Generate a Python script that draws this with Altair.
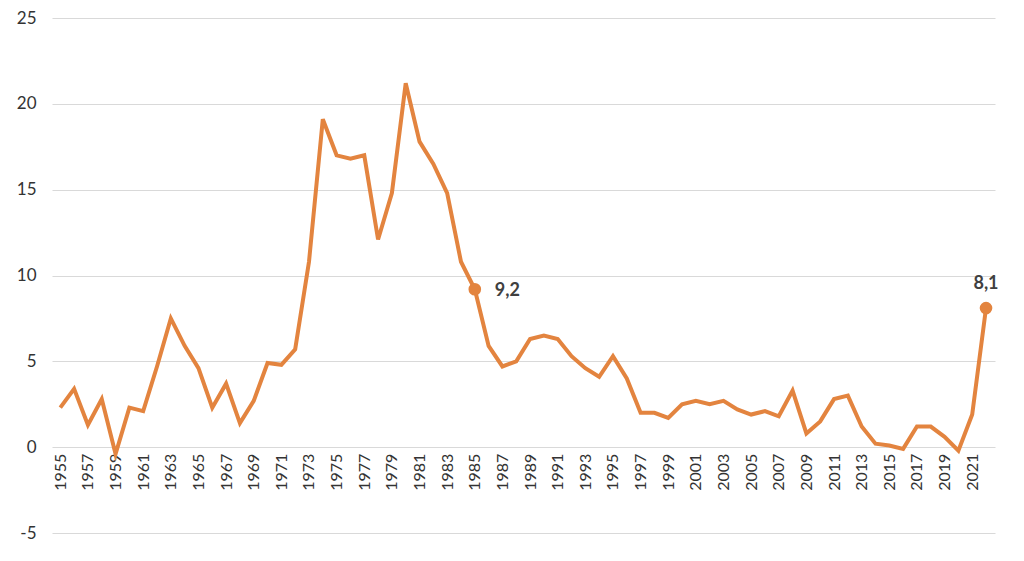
import altair as alt
import pandas as pd

years = list(range(1955, 2023))
values = [
    2.3, 3.4, 1.3, 2.8, -0.4, 2.3, 2.1, 4.7, 7.5, 5.9,
    4.6, 2.3, 3.7, 1.4, 2.7, 4.9, 4.8, 5.7, 10.8, 19.1,
    17.0, 16.8, 17.0, 12.1, 14.8, 21.2, 17.8, 16.5, 14.8, 10.8,
    9.2, 5.9, 4.7, 5.0, 6.3, 6.5, 6.3, 5.3, 4.6, 4.1,
    5.3, 4.0, 2.0, 2.0, 1.7, 2.5, 2.7, 2.5, 2.7, 2.2,
    1.9, 2.1, 1.8, 3.3, 0.8, 1.5, 2.8, 3.0, 1.2, 0.2,
    0.1, -0.1, 1.2, 1.2, 0.6, -0.2, 1.9, 8.1,
]
label_years = [1985, 2022]
label_texts = ["9,2", "8,1"]
tick_years = list(range(1955, 2022, 2))

ORANGE = "#E3843F"
W, H = 943, 515

df = pd.DataFrame({"year": years, "value": values})
lab = df[df["year"].isin(label_years)].copy()
lab["text"] = label_texts

x = alt.X(
    "year:Q",
    scale=alt.Scale(domain=[1954.4, 2022.65], nice=False, zero=False),
    axis=alt.Axis(
        values=tick_years, format="d", labelAngle=-90, title=None,
        grid=False, domain=False, ticks=False, labelFont="Lato",
        labelFontSize=16, labelColor="#333333", labelPadding=6,
        offset=-H * 5 / 30, labelFlush=False, labelOverlap=False,
    ),
)
y = alt.Y(
    "value:Q",
    scale=alt.Scale(domain=[-5, 25], nice=False),
    axis=alt.Axis(
        values=[-5, 0, 5, 10, 15, 20, 25], title=None, domain=False,
        ticks=False, gridColor="#d9d9d9", gridWidth=1, labelFont="Lato",
        labelFontSize=17, labelColor="#333333", labelPadding=16,
        labelExpr="'' + datum.value",
    ),
)

base = alt.Chart(df)
line = base.mark_line(color=ORANGE, strokeWidth=4).encode(x=x, y=y)
pts = alt.Chart(lab).mark_point(filled=True, color=ORANGE, size=160, opacity=1).encode(x=x, y=y)
t1 = alt.Chart(lab[lab["year"] == 1985]).mark_text(
    align="left", dx=20, dy=2, font="Lato", fontSize=18, fontWeight="bold", color="#404040"
).encode(x=x, y=y, text="text:N")
t2 = alt.Chart(lab[lab["year"] == 2022]).mark_text(
    align="center", dy=-24, font="Lato", fontSize=18, fontWeight="bold", color="#404040"
).encode(x=x, y=y, text="text:N")

chart = (
    alt.layer(line, pts, t1, t2)
    .properties(
        width=W, height=H,
        autosize=alt.AutoSizeParams(type="none"),
        padding={"left": 44, "top": 10, "right": 21, "bottom": 20},
    )
    .configure_view(stroke=None)
)

chart.save("out.html", embed_options={"renderer": "svg", "actions": False})
